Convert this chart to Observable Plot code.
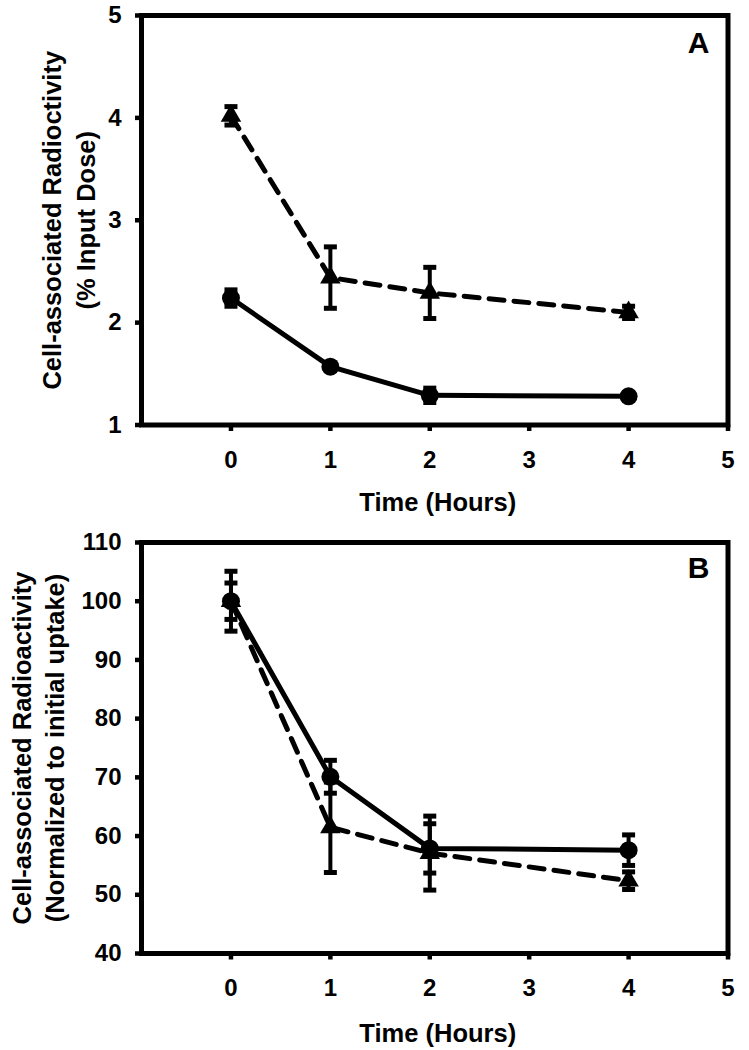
<!DOCTYPE html>
<html><head><meta charset="utf-8">
<script src="https://cdn.jsdelivr.net/npm/d3@7"></script>
<script src="https://cdn.jsdelivr.net/npm/@observablehq/plot@0.6"></script>
<style>
body{margin:0;background:#fff;}
#chart svg{display:block;}
</style></head><body><div id="chart"></div>
<script>
// ---- data ----
const times = [0, 1, 2, 4];
const xTicks = [0, 1, 2, 3, 4, 5];
const xTitle = "Time (Hours)";

// Panel A (% input dose)
const aCircle = [2.24, 1.57, 1.29, 1.28];
const aCircleErr = [0.08, 0.03, 0.07, 0.03];
const aTriangle = [4.02, 2.44, 2.29, 2.10];
const aTriangleErr = [0.09, 0.30, 0.25, 0.06];
const aTicks = [1, 2, 3, 4, 5];
const aYTitle = "Cell-associated Radioctivity\n(% Input Dose)";
const aLabel = "A";

// Panel B (normalized to initial uptake)
const bCircle = [100, 70.1, 57.9, 57.6];
const bCircleErr = [5.1, 2.8, 4.2, 2.6];
const bTriangle = [100, 61.5, 57.1, 52.4];
const bTriangleErr = [3.1, 7.7, 6.3, 1.5];
const bTicks = [40, 50, 60, 70, 80, 90, 100, 110];
const bYTitle = "Cell-associated Radioactivity\n(Normalized to initial uptake)";
const bLabel = "B";

// ---- helpers ----
const capSymbol = {
  draw(ctx) {
    ctx.moveTo(-6.5, -2.5); ctx.lineTo(6.5, -2.5); ctx.lineTo(6.5, 2.5); ctx.lineTo(-6.5, 2.5); ctx.closePath();
  }
};
const FONT = "'Liberation Sans', Arial, Helvetica, sans-serif";

function rowsOf(vals, errs) {
  return times.map((t, i) => ({t, v: vals[i], lo: vals[i] - errs[i], hi: vals[i] + errs[i]}));
}

function panel(o) {
  const circ = rowsOf(o.circle, o.circleErr);
  const tri = rowsOf(o.tri, o.triErr);
  const triCaps = tri.flatMap(d => [{t: d.t, y: d.lo}, {t: d.t, y: d.hi}]);
  const circCaps = circ.flatMap(d => [{t: d.t, y: d.lo}, {t: d.t, y: d.hi}]);
  return Plot.plot({
    width: 749,
    height: o.height,
    marginLeft: 141,
    marginRight: 21.5,
    marginTop: o.marginTop,
    marginBottom: o.marginBottom,
    style: {fontFamily: FONT, fontSize: "24px", fontWeight: "bold", color: "black", background: "white", overflow: "visible"},
    x: {domain: [-0.9, 5]},
    y: {domain: o.yDomain},
    marks: [
      Plot.axisX({ticks: xTicks, tickSize: 6.5, tickPadding: 19, strokeWidth: 4.5, label: null, tickFormat: d => String(d)}),
      Plot.axisY({ticks: o.yTicks, tickSize: 6, tickPadding: 14, strokeWidth: 4.5, label: null, tickFormat: d => String(d)}),
      // triangle series (dashed)
      Plot.ruleX(tri, {x: "t", y1: "lo", y2: "hi", stroke: "black", strokeWidth: 4}),
      Plot.dot(triCaps, {x: "t", y: "y", symbol: capSymbol, fill: "black", stroke: null}),
      Plot.line(tri, {x: "t", y: "v", stroke: "black", strokeWidth: 5, strokeDasharray: "15,10"}),
      Plot.dot(tri, {x: "t", y: "v", symbol: "triangle", r: 7.6, fill: "black", stroke: null}),
      // circle series (solid)
      Plot.ruleX(circ, {x: "t", y1: "lo", y2: "hi", stroke: "black", strokeWidth: 4}),
      Plot.dot(circCaps, {x: "t", y: "y", symbol: capSymbol, fill: "black", stroke: null}),
      Plot.line(circ, {x: "t", y: "v", stroke: "black", strokeWidth: 5}),
      Plot.dot(circ, {x: "t", y: "v", r: 9, fill: "black", stroke: null}),
      Plot.frame({stroke: "black", strokeWidth: 5}),
      // texts
      Plot.text([o.label], {frameAnchor: "top-right", dx: -29.5, dy: o.labelDy, textAnchor: "middle", lineAnchor: "middle", fontSize: 30, fontWeight: "bold", fill: "black"}),
      Plot.text([xTitle], {frameAnchor: "bottom", dx: 3, dy: o.xTitleDy, textAnchor: "middle", lineAnchor: "middle", fontSize: 25.5, fontWeight: "bold", fill: "black"}),
      Plot.text([o.yTitle], {frameAnchor: "left", dx: o.yTitleDx, rotate: -90, textAnchor: "middle", lineAnchor: "middle", lineHeight: o.yTitleLH, fontSize: 25.5, fontWeight: "bold", fill: "black"})
    ]
  });
}

const chart = document.getElementById("chart");
chart.append(panel({
  height: 520, marginTop: 15, marginBottom: 95.5,
  yDomain: [1, 5], yTicks: aTicks,
  circle: aCircle, circleErr: aCircleErr, tri: aTriangle, triErr: aTriangleErr,
  label: aLabel, labelDy: 27.5, xTitleDy: 78, yTitle: aYTitle, yTitleDx: -74.5, yTitleLH: 1.32
}));
chart.append(panel({
  height: 530, marginTop: 22, marginBottom: 97,
  yDomain: [40, 110], yTicks: bTicks,
  circle: bCircle, circleErr: bCircleErr, tri: bTriangle, triErr: bTriangleErr,
  label: bLabel, labelDy: 25.5, xTitleDy: 80, yTitle: bYTitle, yTitleDx: -104.5, yTitleLH: 1.3
}));
</script></body></html>
